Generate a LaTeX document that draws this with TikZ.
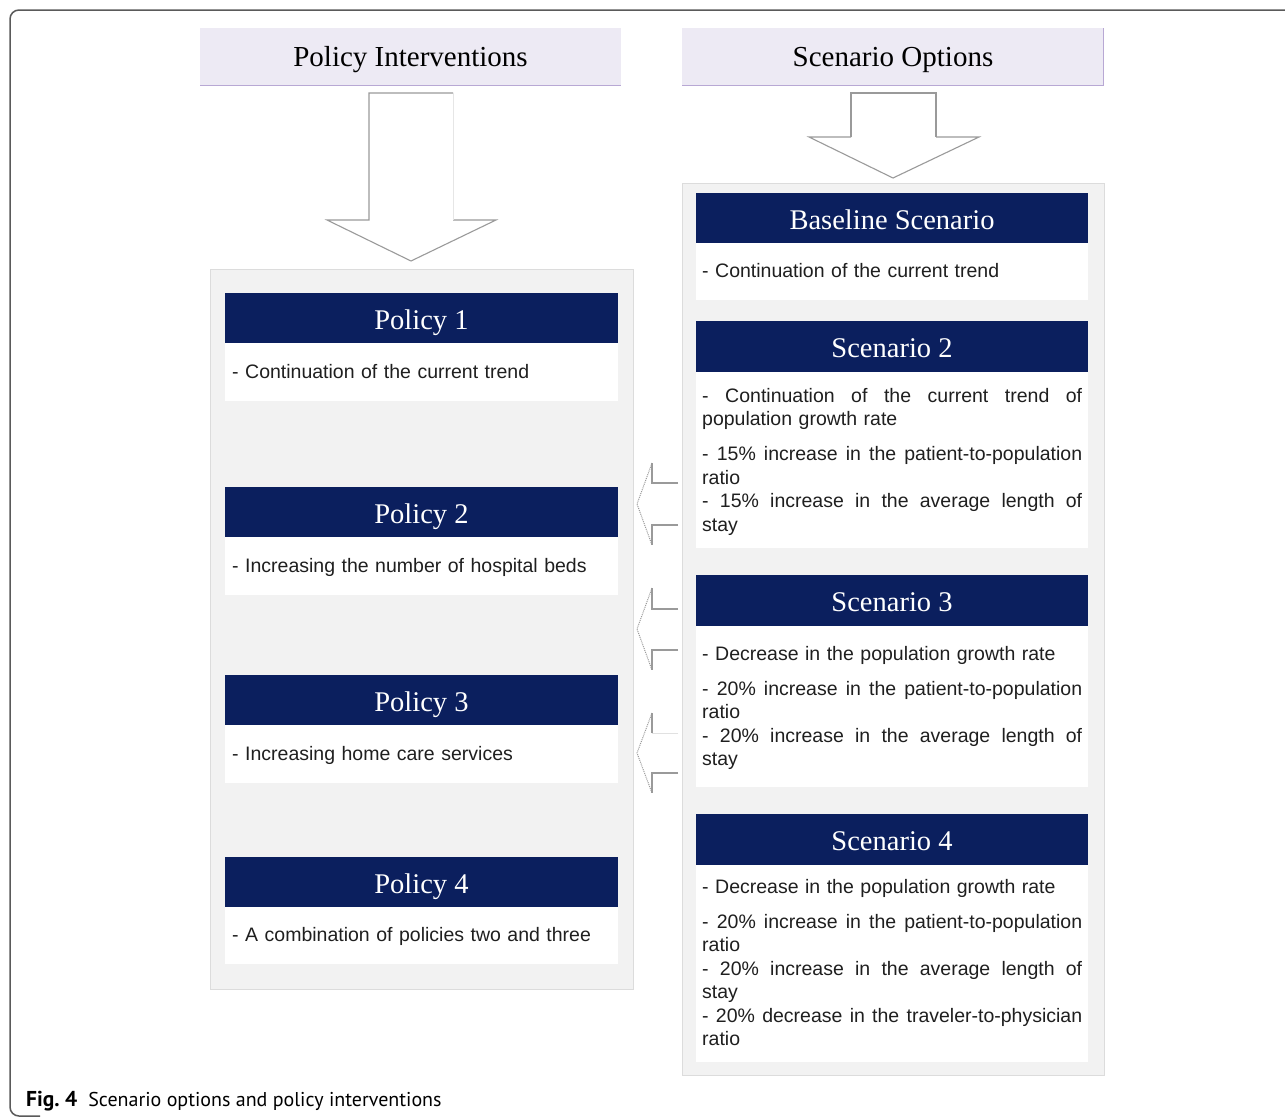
\documentclass[tikz,border=0pt]{standalone}
\usepackage{fontspec}
\setmainfont{Liberation Serif}
\setsansfont{Liberation Sans}
\newfontfamily\capfont{PT Sans}
\definecolor{navy}{HTML}{0B1F5E}
\definecolor{lav}{HTML}{EDEAF4}
\definecolor{lavline}{HTML}{B8A8D4}
\definecolor{panelfill}{HTML}{F2F2F2}
\definecolor{panelline}{HTML}{DCDCDC}
\definecolor{arrowgray}{HTML}{9A9A9A}
\definecolor{framegray}{HTML}{5A5A5A}
\newcommand{\jl}[1]{\makebox[380pt][s]{\spaceskip=\fontdimen2\font plus 1fil\relax #1}}
\begin{document}
\begin{tikzpicture}[x=1pt,y=-1pt,
  tophdr/.style={fill=lav, draw=none, inner sep=0, minimum width=421pt, minimum height=57pt, anchor=north west},
  toptxt/.style={font=\fontsize{29}{33}\selectfont, inner sep=0, anchor=base},
  panel/.style={fill=panelfill, draw=panelline, line width=1pt, inner sep=0, anchor=north west},
  hdrbox/.style={fill=navy, draw=none, inner sep=0, minimum width=393pt, minimum height=51pt, anchor=north west},
  bodybox/.style={fill=white, draw=none, inner sep=0, minimum width=393pt, anchor=north west},
  hdrtxt/.style={text=white, font=\fontsize{28.5}{34}\selectfont, inner sep=0, anchor=base},
  bodytxt/.style={font=\sffamily\fontsize{19.5}{23.5}\selectfont, text width=380pt, align=left, inner sep=0, anchor=base west, text=black!88},
  blockarrow/.style={draw=arrowgray, line width=1.1pt, line join=miter},
  sidehead/.style={draw=arrowgray, line width=1pt, densely dotted},
  sideshaft/.style={draw=arrowgray, line width=1.1pt}
]
\useasboundingbox (0,0) rectangle (1285,1117);
\fill[white] (0,0) rectangle (1285,1117);

% outer frame
\draw[framegray, line width=1.5pt, rounded corners=9pt] (1295,10) -- (10,10) -- (10,1116) -- (40,1116);

% top headers
\node[tophdr] (hl) at (200,28) {};
\draw[lavline, line width=1.3pt] (hl.south west) -- (hl.south east);
\node[toptxt] (hlt) at (410.5,66) {Policy Interventions};
\node[tophdr] (hr) at (682,28) {};
\draw[lavline, line width=1.3pt] (hr.north east) -- (hr.south east) -- (hr.south west);
\node[toptxt] (hrt) at (893,66) {Scenario Options};

% big down arrows
\draw[blockarrow] (453,93) -- (369,93) -- (369,220) -- (327,220) -- (411,261) -- (496,220) -- (453,220);
\draw[draw=arrowgray!25, line width=1pt] (453,93) -- (453,220);
\draw[blockarrow] (851,137) -- (851,93) -- (936,93) -- (936,137);
\draw[blockarrow] (851,137) -- (809,137) -- (893,178) -- (979,137) -- (936,137);

% panels
\node[panel, minimum width=423pt, minimum height=720pt] (lp) at (210,269) {};
\node[panel, minimum width=422pt, minimum height=892pt] (rp) at (682,183) {};

% policy boxes
\node[hdrbox] (p1h) at (225,293) {};
\node[bodybox, minimum height=58pt] (p1b) at (225,343) {};
\node[hdrtxt] (p1t) at (421.5,329.5) {Policy 1};
\node[bodytxt] (p1x) at (232,378) {- Continuation of the current trend};

\node[hdrbox] (p2h) at (225,487) {};
\node[bodybox, minimum height=58pt] (p2b) at (225,537) {};
\node[hdrtxt] (p2t) at (421.5,523.5) {Policy 2};
\node[bodytxt] (p2x) at (232,572) {- Increasing the number of hospital beds};

\node[hdrbox] (p3h) at (225,675) {};
\node[bodybox, minimum height=58pt] (p3b) at (225,725) {};
\node[hdrtxt] (p3t) at (421.5,711.5) {Policy 3};
\node[bodytxt] (p3x) at (232,760) {- Increasing home care services};

\node[hdrbox] (p4h) at (225,857) {};
\node[bodybox, minimum height=57pt] (p4b) at (225,907) {};
\node[hdrtxt] (p4t) at (421.5,893.5) {Policy 4};
\node[bodytxt] (p4x) at (232,941) {- A combination of policies two and three};

% scenario boxes
\node[hdrbox, minimum width=392pt] (s1h) at (696,193) {};
\node[bodybox, minimum width=392pt, minimum height=57pt] (s1b) at (696,243) {};
\node[hdrtxt] (s1t) at (892,229.5) {Baseline Scenario};
\node[bodytxt] (s1x) at (702,277) {- Continuation of the current trend};

\node[hdrbox, minimum width=392pt] (s2h) at (696,321) {};
\node[bodybox, minimum width=392pt, minimum height=176pt] (s2b) at (696,372) {};
\node[hdrtxt] (s2t) at (892,357.5) {Scenario 2};
\node[bodytxt] (s2x) at (702,402) {\jl{- Continuation of the current trend of}\\
population growth rate\\[11.5pt]
\jl{- 15\% increase in the patient-to-population}\\
ratio\\
\jl{- 15\% increase in the average length of}\\
stay};

\node[hdrbox, minimum width=392pt] (s3h) at (696,575) {};
\node[bodybox, minimum width=392pt, minimum height=161pt] (s3b) at (696,626) {};
\node[hdrtxt] (s3t) at (892,611.5) {Scenario 3};
\node[bodytxt] (s3x) at (702,660) {- Decrease in the population growth rate\\[11.5pt]
\jl{- 20\% increase in the patient-to-population}\\
ratio\\
\jl{- 20\% increase in the average length of}\\
stay};

\node[hdrbox, minimum width=392pt] (s4h) at (696,814) {};
\node[bodybox, minimum width=392pt, minimum height=197pt] (s4b) at (696,865) {};
\node[hdrtxt] (s4t) at (892,850.5) {Scenario 4};
\node[bodytxt] (s4x) at (702,893) {- Decrease in the population growth rate\\[11.5pt]
\jl{- 20\% increase in the patient-to-population}\\
ratio\\
\jl{- 20\% increase in the average length of}\\
stay\\
\jl{- 20\% decrease in the traveler-to-physician}\\
ratio};

% side arrows (scenario -> policy)
\draw[sideshaft] (678,483) -- (652,483) -- (652,463);
\draw[sideshaft] (678,525) -- (652,525) -- (652,545);
\draw[sidehead] (652,463) -- (637,504) -- (652,545);

\draw[sideshaft] (678,609) -- (652,609) -- (652,588);
\draw[sideshaft] (678,650) -- (652,650) -- (652,670);
\draw[sidehead] (652,588) -- (637,629) -- (652,670);

\draw[sideshaft] (652,733) -- (652,713);
\draw[draw=arrowgray!30, line width=1pt] (678,733) -- (652,733);
\draw[sideshaft] (678,773) -- (652,773) -- (652,793);
\draw[sidehead] (652,713) -- (637,753) -- (652,793);

% caption
\node[anchor=base west, inner sep=0, font=\capfont\fontsize{20}{24}\selectfont] (cap) at (26,1106) {{\fontsize{21.5}{24}\selectfont\bfseries Fig.~4}\hspace{11pt}Scenario options and policy interventions};
\end{tikzpicture}
\end{document}
